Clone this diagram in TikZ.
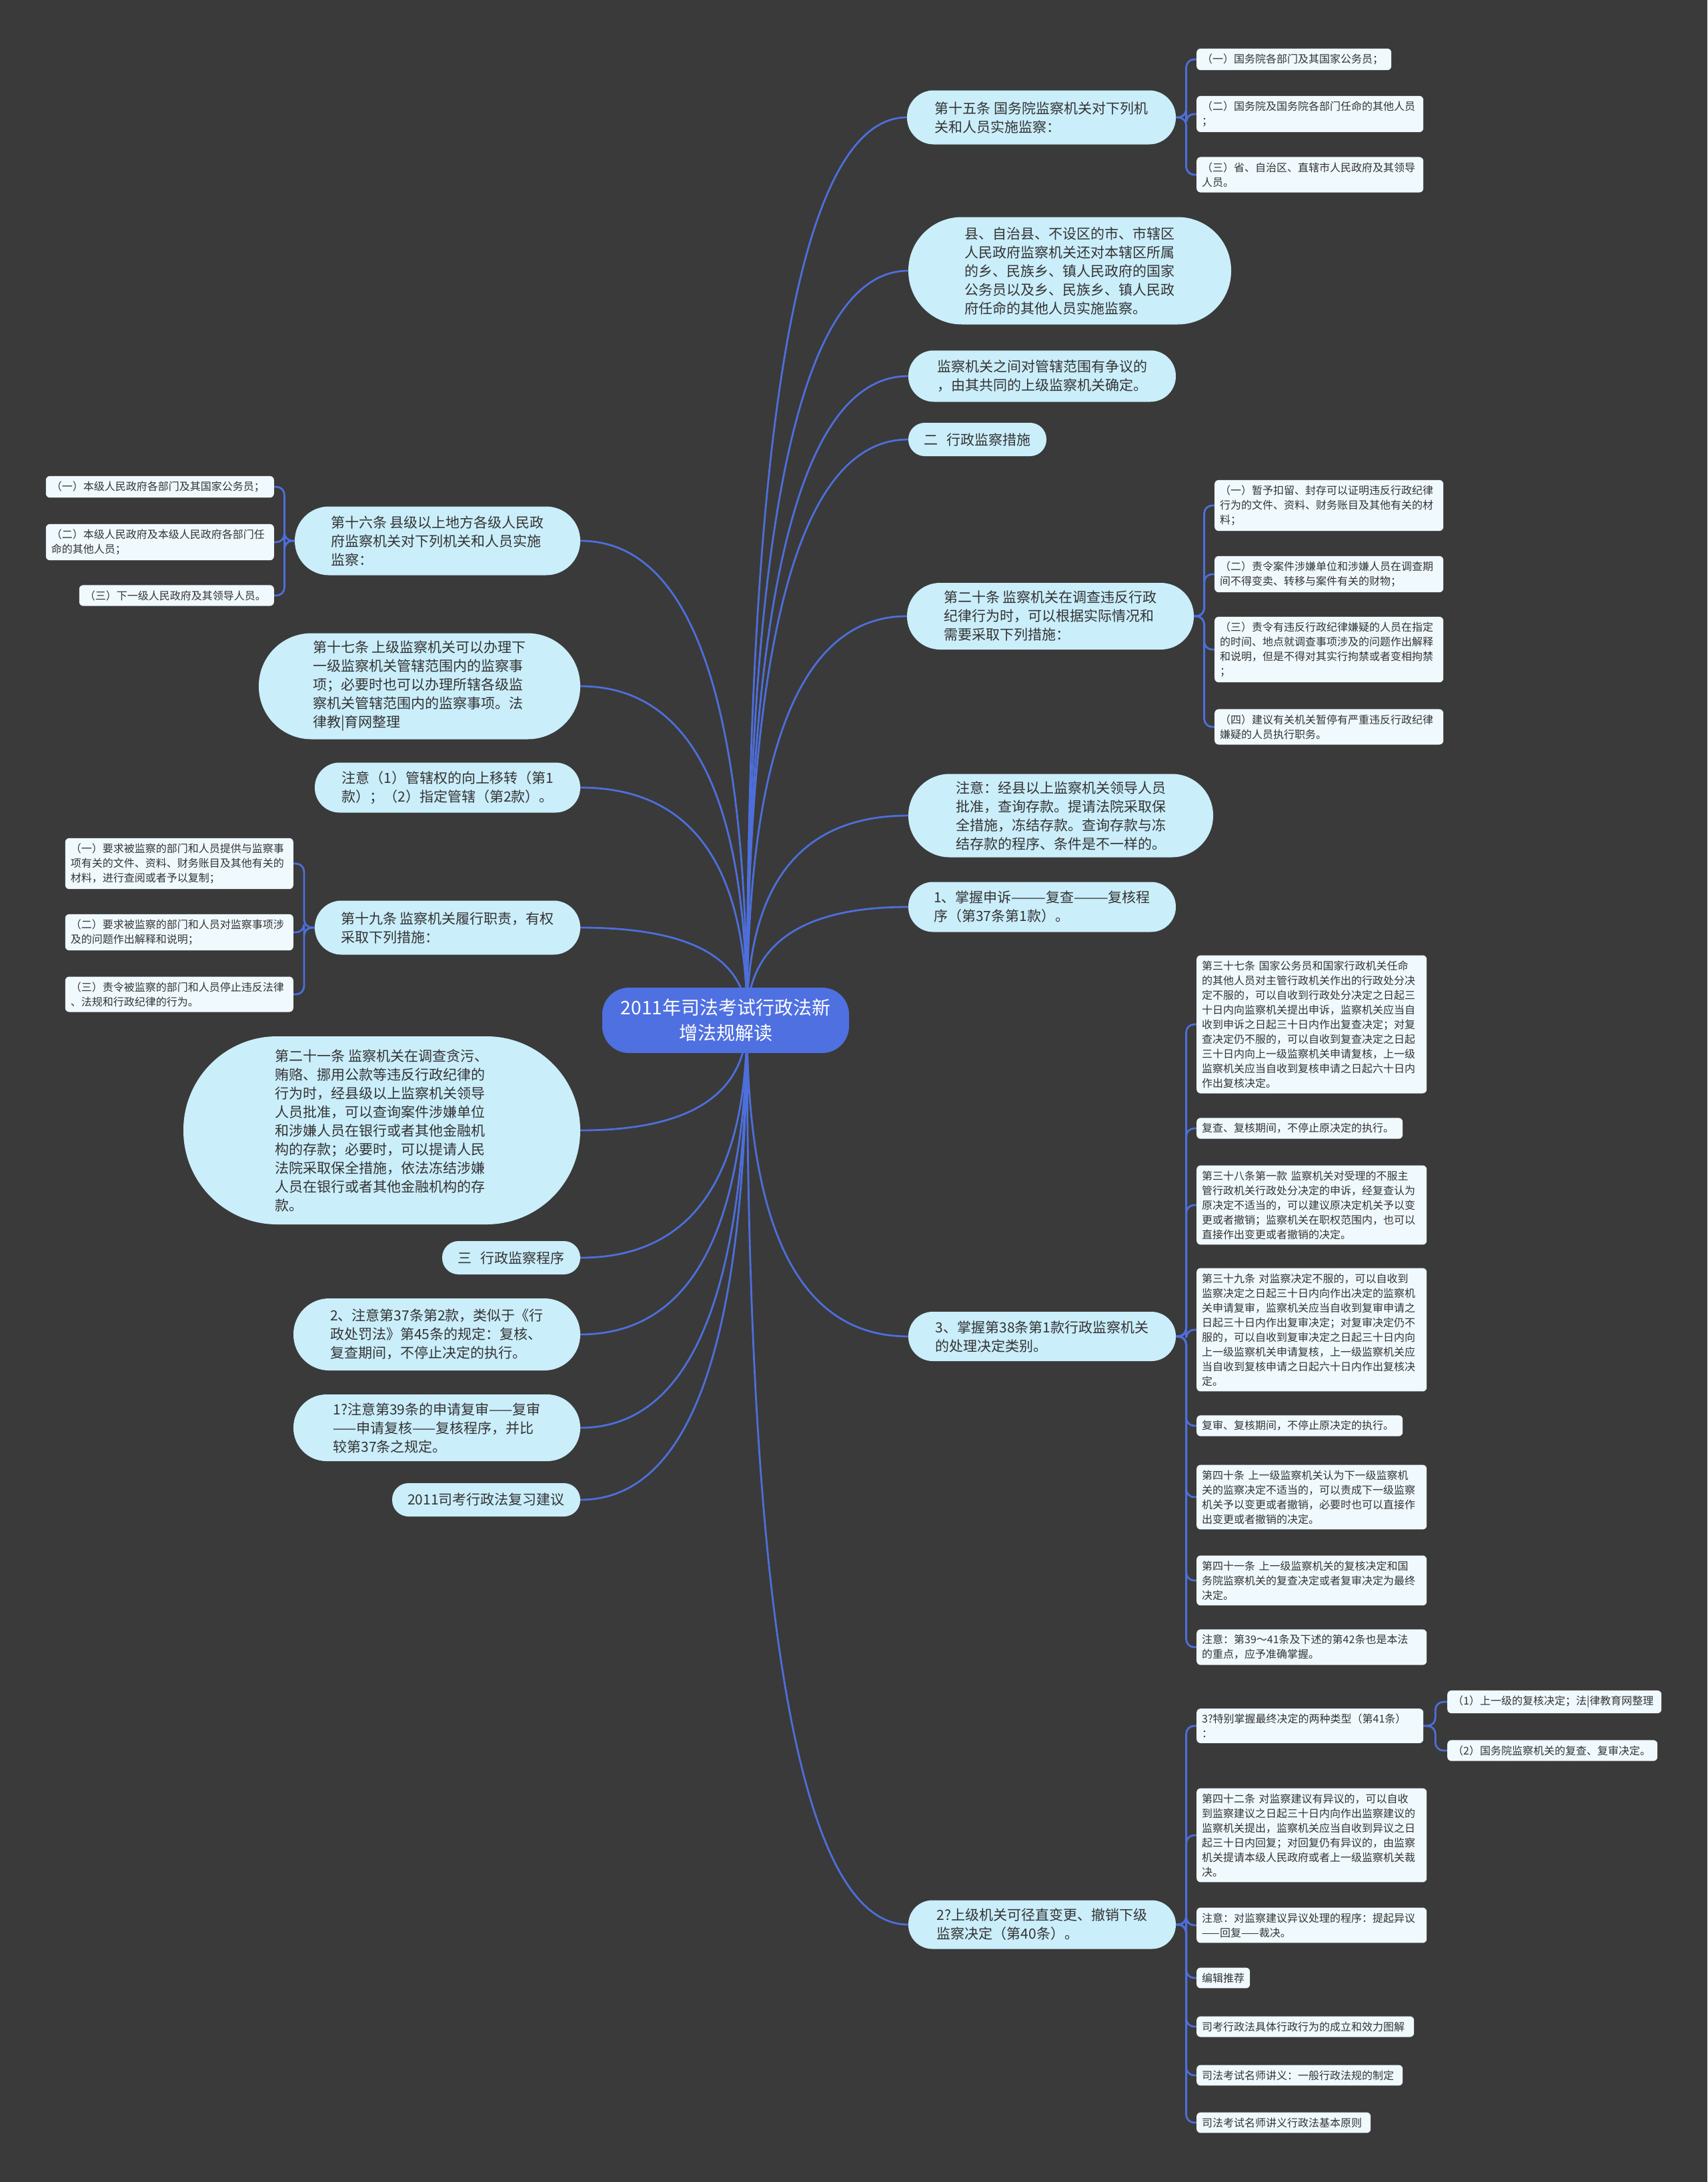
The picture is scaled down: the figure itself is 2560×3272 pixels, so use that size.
\documentclass[tikz,border=0pt]{standalone}
\usepackage{fontspec}
\setmainfont{Noto Sans CJK SC}
\usetikzlibrary{calc,backgrounds}
\definecolor{bgc}{HTML}{3A3A3A}
\definecolor{linec}{HTML}{4C6FDB}
\definecolor{rootc}{HTML}{4F70E0}
\definecolor{topicc}{HTML}{CBEEFB}
\definecolor{leafc}{HTML}{F0FAFE}
\definecolor{txtc}{HTML}{333333}
\tikzset{
  rootbox/.style={fill=rootc, text=white, rounded corners=40pt, align=center,
    font=\fontsize{28}{38}\selectfont, minimum width=370pt, minimum height=98pt, inner sep=4pt},
  topic/.style={fill=topicc, text=txtc, align=left, font=\fontsize{21}{28}\selectfont, inner sep=4pt},
  tp/.style 2 args={topic, minimum width=#1pt, minimum height=#2pt, rounded corners=#2pt/2-0.5pt},
  leaf/.style={fill=leafc, text=txtc, align=left, rounded corners=6pt,
    font=\fontsize{16}{22}\selectfont, inner xsep=8pt, inner ysep=8pt},
  conn/.style={draw=linec, line width=2.8pt},
  hubcurve/.style={to path={.. controls ($(\tikztostart)!0.667!(\tikztostart |- \tikztotarget)$) and ($(\tikztotarget)!0.667!(\tikztostart |- \tikztotarget)$) .. (\tikztotarget)}},
  elbow/.style={rounded corners=12pt, to path={-- ($(\tikztostart)!0.5!(\tikztostart -| \tikztotarget)$) |- (\tikztotarget)}},
}
\begin{document}
\begin{tikzpicture}[x=1pt,y=-1pt]
\useasboundingbox (0,0) rectangle (2560,3272);
% root
\node[rootbox] (root) at (1088,1530) {2011年司法考试行政法新\\增法规解读};
\coordinate (hub) at ([xshift=32pt]root.center);

% right topics
\node[tp={403}{81}] (R1) at (1561.5,176) {第十五条 国务院监察机关对下列机\\关和人员实施监察：};
\node[tp={484}{161}] (R2) at (1604,406) {县、自治县、不设区的市、市辖区\\人民政府监察机关还对本辖区所属\\的乡、民族乡、镇人民政府的国家\\公务员以及乡、民族乡、镇人民政\\府任命的其他人员实施监察。};
\node[tp={401}{77}] (R3) at (1562.5,564) {监察机关之间对管辖范围有争议的\\，由其共同的上级监察机关确定。};
\node[tp={207}{50}] (R4) at (1465.5,659) {二\hspace{0.6em}行政监察措施};
\node[tp={430}{100}] (R5) at (1575,924) {第二十条 监察机关在调查违反行政\\纪律行为时，可以根据实际情况和\\需要采取下列措施：};
\node[tp={457}{125}] (R6) at (1590.5,1223) {注意：经县以上监察机关领导人员\\批准，查询存款。提请法院采取保\\全措施，冻结存款。查询存款与冻\\结存款的程序、条件是不一样的。};
\node[tp={401}{75}] (R7) at (1562.5,1360) {1、掌握申诉———复查———复核程\\序（第37条第1款）。};
\node[tp={401}{74}] (R8) at (1562.5,2004) {3、掌握第38条第1款行政监察机关\\的处理决定类别。};
\node[tp={401}{73}] (R9) at (1562.5,2886) {2?上级机关可径直变更、撤销下级\\监察决定（第40条）。};

% left topics
\node[tp={428}{103}] (F1) at (656,811) {第十六条 县级以上地方各级人民政\\府监察机关对下列机关和人员实施\\监察：};
\node[tp={482}{159}] (F2) at (629,1029) {第十七条 上级监察机关可以办理下\\一级监察机关管辖范围内的监察事\\项；必要时也可以办理所辖各级监\\察机关管辖范围内的监察事项。法\\律教|育网整理};
\node[tp={398}{75}] (F3) at (671,1181) {注意（1）管辖权的向上移转（第1\\款）；（2）指定管辖（第2款）。};
\node[tp={398}{81}] (F4) at (671,1391) {第十九条 监察机关履行职责，有权\\采取下列措施：};
\node[tp={595}{282}] (F5) at (572.5,1695) {第二十一条 监察机关在调查贪污、\\贿赂、挪用公款等违反行政纪律的\\行为时，经县级以上监察机关领导\\人员批准，可以查询案件涉嫌单位\\和涉嫌人员在银行或者其他金融机\\构的存款；必要时，可以提请人民\\法院采取保全措施，依法冻结涉嫌\\人员在银行或者其他金融机构的存\\款。};
\node[tp={207}{50}] (F6) at (766.5,1886) {三\hspace{0.6em}行政监察程序};
\node[tp={430}{108}] (F7) at (655,2001) {2、注意第37条第2款，类似于《行\\政处罚法》第45条的规定：复核、\\复查期间，不停止决定的执行。};
\node[tp={430}{100}] (F8) at (655,2141) {1?注意第39条的申请复审——复审\\——申请复核——复核程序，并比\\较第37条之规定。};
\node[tp={282}{50}] (F9) at (729,2249) {2011司考行政法复习建议};

% right leaves
\node[leaf, anchor=west, text width=276pt] (L1a) at (1794,89) {（一）国务院各部门及其国家公务员；};
\node[leaf, anchor=west, text width=324pt] (L1b) at (1794,171) {（二）国务院及国务院各部门任命的其他人员\\；};
\node[leaf, anchor=west, text width=324pt] (L1c) at (1794,262) {（三）省、自治区、直辖市人民政府及其领导\\人员。};

\node[leaf, anchor=west, text width=327pt] (L5a) at (1821,758) {（一）暂予扣留、封存可以证明违反行政纪律\\行为的文件、资料、财务账目及其他有关的材\\料；};
\node[leaf, anchor=west, text width=327pt] (L5b) at (1821,861) {（二）责令案件涉嫌单位和涉嫌人员在调查期\\间不得变卖、转移与案件有关的财物；};
\node[leaf, anchor=west, text width=327pt] (L5c) at (1821,974) {（三）责令有违反行政纪律嫌疑的人员在指定\\的时间、地点就调查事项涉及的问题作出解释\\和说明，但是不得对其实行拘禁或者变相拘禁\\；};
\node[leaf, anchor=west, text width=327pt] (L5d) at (1821,1090) {（四）建议有关机关暂停有严重违反行政纪律\\嫌疑的人员执行职务。};

\node[leaf, anchor=west, text width=329pt] (L8a) at (1794,1536) {第三十七条 国家公务员和国家行政机关任命\\的其他人员对主管行政机关作出的行政处分决\\定不服的，可以自收到行政处分决定之日起三\\十日内向监察机关提出申诉，监察机关应当自\\收到申诉之日起三十日内作出复查决定；对复\\查决定仍不服的，可以自收到复查决定之日起\\三十日内向上一级监察机关申请复核，上一级\\监察机关应当自收到复核申请之日起六十日内\\作出复核决定。};
\node[leaf, anchor=west, text width=293pt] (L8b) at (1794,1692) {复查、复核期间，不停止原决定的执行。};
\node[leaf, anchor=west, text width=329pt] (L8c) at (1794,1807) {第三十八条第一款 监察机关对受理的不服主\\管行政机关行政处分决定的申诉，经复查认为\\原决定不适当的，可以建议原决定机关予以变\\更或者撤销；监察机关在职权范围内，也可以\\直接作出变更或者撤销的决定。};
\node[leaf, anchor=west, text width=329pt] (L8d) at (1794,1994) {第三十九条 对监察决定不服的，可以自收到\\监察决定之日起三十日内向作出决定的监察机\\关申请复审，监察机关应当自收到复审申请之\\日起三十日内作出复审决定；对复审决定仍不\\服的，可以自收到复审决定之日起三十日内向\\上一级监察机关申请复核，上一级监察机关应\\当自收到复核申请之日起六十日内作出复核决\\定。};
\node[leaf, anchor=west, text width=293pt] (L8e) at (1794,2138) {复审、复核期间，不停止原决定的执行。};
\node[leaf, anchor=west, text width=329pt] (L8f) at (1794,2245) {第四十条 上一级监察机关认为下一级监察机\\关的监察决定不适当的，可以责成下一级监察\\机关予以变更或者撤销，必要时也可以直接作\\出变更或者撤销的决定。};
\node[leaf, anchor=west, text width=329pt] (L8g) at (1794,2370) {第四十一条 上一级监察机关的复核决定和国\\务院监察机关的复查决定或者复审决定为最终\\决定。};
\node[leaf, anchor=west, text width=329pt] (L8h) at (1794,2470) {注意：第39～41条及下述的第42条也是本法\\的重点，应予准确掌握。};

\node[leaf, anchor=west, text width=324pt] (L9a) at (1794,2588) {3?特别掌握最终决定的两种类型（第41条）\\：};
\node[leaf, anchor=west, text width=305pt] (L9a1) at (2170,2552) {（1）上一级的复核决定；法|律教育网整理};
\node[leaf, anchor=west, text width=299pt] (L9a2) at (2170,2625) {（2）国务院监察机关的复查、复审决定。};
\node[leaf, anchor=west, text width=329pt] (L9b) at (1794,2752) {第四十二条 对监察建议有异议的，可以自收\\到监察建议之日起三十日内向作出监察建议的\\监察机关提出，监察机关应当自收到异议之日\\起三十日内回复；对回复仍有异议的，由监察\\机关提请本级人民政府或者上一级监察机关裁\\决。};
\node[leaf, anchor=west, text width=329pt] (L9c) at (1794,2887) {注意：对监察建议异议处理的程序：提起异议\\——回复——裁决。};
\node[leaf, anchor=west, text width=64pt] (L9d) at (1794,2966) {编辑推荐};
\node[leaf, anchor=west, text width=310pt] (L9e) at (1794,3039) {司考行政法具体行政行为的成立和效力图解};
\node[leaf, anchor=west, text width=293pt] (L9f) at (1794,3112) {司法考试名师讲义：一般行政法规的制定};
\node[leaf, anchor=west, text width=245pt] (L9g) at (1794,3183) {司法考试名师讲义行政法基本原则};

% left leaves
\node[leaf, anchor=east, text width=326pt] (F1a) at (411,730) {（一）本级人民政府各部门及其国家公务员；};
\node[leaf, anchor=east, text width=326pt] (F1b) at (411,813) {（二）本级人民政府及本级人民政府各部门任\\命的其他人员；};
\node[leaf, anchor=east, text width=276pt] (F1c) at (411,893) {（三）下一级人民政府及其领导人员。};
\node[leaf, anchor=east, text width=326pt] (F4a) at (440,1295) {（一）要求被监察的部门和人员提供与监察事\\项有关的文件、资料、财务账目及其他有关的\\材料，进行查阅或者予以复制；};
\node[leaf, anchor=east, text width=326pt] (F4b) at (440,1398) {（二）要求被监察的部门和人员对监察事项涉\\及的问题作出解释和说明；};
\node[leaf, anchor=east, text width=326pt] (F4c) at (440,1491) {（三）责令被监察的部门和人员停止违反法律\\、法规和行政纪律的行为。};

\begin{scope}[on background layer]
\fill[bgc] (0,0) rectangle (2560,3272);
% root connectors
\foreach \t in {R1,R2,R3,R4,R5,R6,R7,R8,R9}{\draw[conn, hubcurve] (hub) to (\t.west);}
\foreach \t in {F1,F2,F3,F4,F5,F6,F7,F8,F9}{\draw[conn, hubcurve] (hub) to (\t.east);}
% leaf connectors right
\foreach \t in {L1a,L1b,L1c}{\draw[conn, elbow] (R1.east) to (\t.west);}
\foreach \t in {L5a,L5b,L5c,L5d}{\draw[conn, elbow] (R5.east) to (\t.west);}
\foreach \t in {L8a,L8b,L8c,L8d,L8e,L8f,L8g,L8h}{\draw[conn, elbow] (R8.east) to (\t.west);}
\foreach \t in {L9a,L9b,L9c,L9d,L9e,L9f,L9g}{\draw[conn, elbow] (R9.east) to (\t.west);}
\foreach \t in {L9a1,L9a2}{\draw[conn, elbow] (L9a.east) to (\t.west);}
% leaf connectors left
\foreach \t in {F1a,F1b,F1c}{\draw[conn, elbow] (F1.west) to (\t.east);}
\foreach \t in {F4a,F4b,F4c}{\draw[conn, elbow] (F4.west) to (\t.east);}
\end{scope}
\end{tikzpicture}
\end{document}
